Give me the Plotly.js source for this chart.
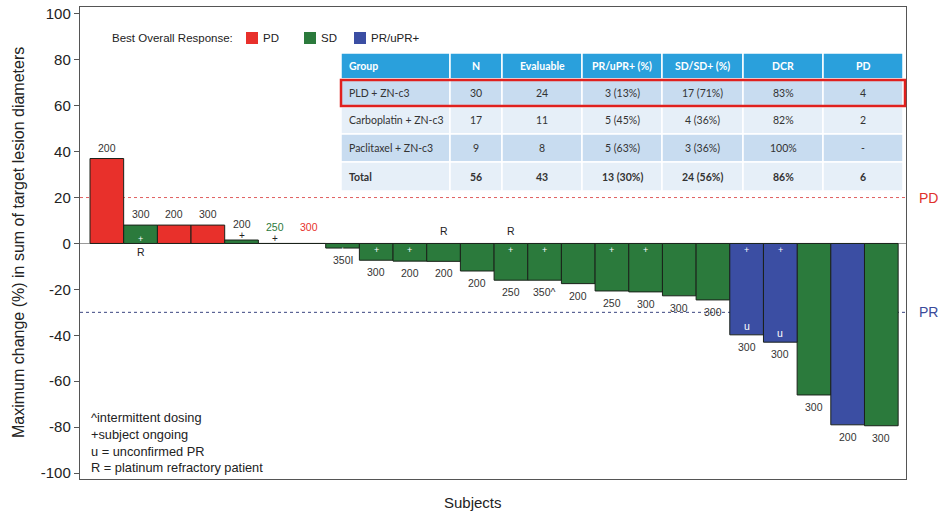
<!DOCTYPE html>
<html>
<head>
<meta charset="utf-8">
<script src="https://cdn.plot.ly/plotly-3.0.1.min.js"></script>
<style>
  html, body { margin: 0; padding: 0; background: #ffffff; }
  #chart { width: 944px; height: 515px; }
</style>
</head>
<body>
<div id="chart"></div>
<script>
// ---- Waterfall data: one entry per subject ----
const subjects = [1, 2, 3, 4, 5, 6, 7, 8, 9, 10, 11, 12, 13, 14, 15, 16, 17, 18, 19, 20, 21, 22, 23, 24];
const changes = [37, 8, 8, 8, 1.5, 0, 0, -2, -7.3, -7.7, -7.8, -12, -16, -16, -17.5, -20.7, -21.1, -22.8, -24.6, -39.8, -43, -66, -79, -79.4];
const responses = ['PD', 'SD', 'PD', 'PD', 'SD', 'SD', 'PD', 'SD', 'SD', 'SD', 'SD', 'SD', 'SD', 'SD', 'SD', 'SD', 'SD', 'SD', 'SD', 'PR', 'PR', 'SD', 'PR', 'SD'];
const doses = ['200', '300', '200', '300', '200', '250', '300', '350I', '300', '200', '200', '200', '250', '350^', '200', '250', '300', '300', '300', '300', '300', '300', '200', '300'];
const ongoing = [0, 1, 0, 0, 1, 1, 0, 1, 1, 1, 0, 0, 1, 1, 0, 1, 1, 0, 0, 1, 1, 0, 0, 0];
const unconfirmed = [0, 0, 0, 0, 0, 0, 0, 0, 0, 0, 0, 0, 0, 0, 0, 0, 0, 0, 0, 1, 1, 0, 0, 0];
const refractory = [0, 1, 0, 0, 0, 0, 0, 0, 0, 0, 1, 0, 1, 0, 0, 0, 0, 0, 0, 0, 0, 0, 0, 0];

const responseKeys = ['PD', 'SD', 'PR'];
const responseNames = ['PD', 'SD', 'PR/uPR+'];
const responseColors = { PD: '#e8302b', SD: '#2b7a3c', PR: '#3b4ea3' };

const yTicks = [100, 80, 60, 40, 20, 0, -20, -40, -60, -80, -100];
const yTickLabels = ['100', '80', '60', '40', '20', '0', '-20', '-40', '-60', '-80', '-100'];
const pdThreshold = 20;
const prThreshold = -30;

const footnotes = ['^intermittent dosing', '+subject ongoing', 'u = unconfirmed PR', 'R = platinum refractory patient'];

// ---- Summary table ----
const tableHeader = ['Group', 'N', 'Evaluable', 'PR/uPR+ (%)', 'SD/SD+ (%)', 'DCR', 'PD'];
const tableGroups = ['PLD + ZN-c3', 'Carboplatin + ZN-c3', 'Paclitaxel + ZN-c3', 'Total'];
const tableN = ['30', '17', '9', '56'];
const tableEvaluable = ['24', '11', '8', '43'];
const tablePR = ['3 (13%)', '5 (45%)', '5 (63%)', '13 (30%)'];
const tableSD = ['17 (71%)', '4 (36%)', '3 (36%)', '24 (56%)'];
const tableDCR = ['83%', '82%', '100%', '86%'];
const tablePD = ['4', '2', '-', '6'];

// ---- Geometry helpers (pixel -> paper) ----
const W = 944, H = 515;
const M = { l: 80, r: 38, t: 7, b: 36 };
const PW = W - M.l - M.r, PH = H - M.t - M.b;
const px = p => (p - M.l) / PW;
const py = p => (H - M.b - p) / PH;

const FONT = 'Liberation Sans, Arial, sans-serif';
const TFONT = 'Lato, Open Sans, sans-serif';
const TXT = '#333333';

// ---- Bar traces, one per response class ----
const traces = responseKeys.map((key, k) => {
  const xs = [], ys = [];
  subjects.forEach((s, i) => { if (responses[i] === key) { xs.push(s); ys.push(changes[i]); } });
  return {
    type: 'bar', x: xs, y: ys, name: responseNames[k], width: 1,
    marker: { color: responseColors[key], line: { color: '#1a221a', width: 1 } },
    hoverinfo: 'skip', showlegend: false
  };
});

const annotations = [];
const shapes = [];

// paper-positioned text with fixed anchors
function paperText(xPix, yPix, text, font, xanchor, extra) {
  return Object.assign({ x: px(xPix), y: py(yPix), xref: 'paper', yref: 'paper', text: text,
    showarrow: false, xanchor: xanchor || 'left', yanchor: 'middle', font: font }, extra || {});
}

// Per-bar labels
subjects.forEach((s, i) => {
  const v = changes[i];
  const small = v >= 0 && v < 4;
  const doseColor = v === 0 ? responseColors[responses[i]] : '#333333';
  const base = { x: s, xref: 'x', yref: 'y', showarrow: false, xanchor: 'center' };
  if (v >= 0) {
    annotations.push(Object.assign({}, base, { y: v, text: doses[i], yanchor: 'bottom', yshift: small ? 8 : 3,
      font: { family: FONT, size: 10.5, color: doseColor } }));
  } else {
    annotations.push(Object.assign({}, base, { y: v, text: doses[i], yanchor: 'top', yshift: -4,
      font: { family: FONT, size: 10.5, color: doseColor } }));
  }
  if (ongoing[i]) {
    if (small) {
      annotations.push(Object.assign({}, base, { y: v, text: '+', yanchor: 'bottom', yshift: -3,
        font: { family: FONT, size: 10, color: '#222222' } }));
    } else if (v > 0) {
      annotations.push(Object.assign({}, base, { y: 0, text: '+', yanchor: 'bottom', yshift: -3,
        font: { family: FONT, size: 9, color: '#ffffff' } }));
    } else {
      annotations.push(Object.assign({}, base, { y: 0, text: '+', yanchor: 'top', yshift: 0,
        font: { family: FONT, size: 9, color: '#ffffff' } }));
    }
  }
  if (unconfirmed[i]) {
    annotations.push(Object.assign({}, base, { y: v, text: 'u', yanchor: 'bottom', yshift: 1,
      font: { family: FONT, size: 10.5, color: '#ffffff' } }));
  }
  if (refractory[i]) {
    annotations.push(Object.assign({}, base, { y: 0, text: 'R', yanchor: 'middle', yshift: v > 0 ? -9 : 12,
      font: { family: FONT, size: 10.5, color: '#222222' } }));
  }
});

// Threshold lines and their labels
shapes.push({ type: 'line', xref: 'paper', yref: 'y', x0: 0, x1: 1, y0: pdThreshold, y1: pdThreshold,
  line: { color: '#e06060', width: 1, dash: 'dot' }, layer: 'below' });
shapes.push({ type: 'line', xref: 'paper', yref: 'y', x0: 0, x1: 1, y0: prThreshold, y1: prThreshold,
  line: { color: '#3a4580', width: 1, dash: 'dot' }, layer: 'below' });
annotations.push({ x: px(928), y: pdThreshold, xref: 'paper', yref: 'y', text: 'PD', showarrow: false,
  xanchor: 'center', yanchor: 'middle', font: { family: FONT, size: 14, color: '#e0302b' } });
annotations.push({ x: px(928), y: prThreshold, xref: 'paper', yref: 'y', text: 'PR', showarrow: false,
  xanchor: 'center', yanchor: 'middle', font: { family: FONT, size: 14, color: '#3a4a9a' } });

// Legend drawn by hand
annotations.push(paperText(110, 38, 'Best Overall Response:', { family: FONT, size: 11.5, color: '#222222' }));
const legendBox = [246, 304, 354];
responseKeys.forEach((key, k) => {
  const x0 = legendBox[k];
  shapes.push({ type: 'rect', xref: 'paper', yref: 'paper', x0: px(x0), x1: px(x0 + 12), y0: py(44), y1: py(32),
    fillcolor: responseColors[key], line: { width: 0 } });
  annotations.push(paperText(x0 + 15, 38, responseNames[k], { family: FONT, size: 11.5, color: '#222222' }));
});

// Table
const colEdges = [341, 450, 502, 582, 662, 743, 823, 903];
const rowEdges = [53, 79, 107, 134, 162, 191];
const rowFills = ['#2aa0dc', '#c8dcf0', '#e6eff8', '#c8dcf0', '#e6eff8'];
for (let r = 0; r < rowFills.length; r++) {
  for (let c = 0; c < colEdges.length - 1; c++) {
    shapes.push({ type: 'rect', xref: 'paper', yref: 'paper',
      x0: px(colEdges[c]), x1: px(colEdges[c + 1]), y0: py(rowEdges[r + 1]), y1: py(rowEdges[r]),
      fillcolor: rowFills[r], line: { color: '#ffffff', width: 1.5 }, layer: 'above' });
  }
}
const tableCols = [tableGroups, tableN, tableEvaluable, tablePR, tableSD, tableDCR, tablePD];
tableHeader.forEach((h, c) => {
  const left = c === 0;
  const xPix = left ? colEdges[0] + 6 : (colEdges[c] + colEdges[c + 1]) / 2;
  const anchor = left ? 'left' : 'center';
  annotations.push(paperText(xPix, (rowEdges[0] + rowEdges[1]) / 2, '<b>' + h + '</b>',
    { family: TFONT, size: 10.5, color: '#ffffff' }, anchor));
  tableCols[c].forEach((val, r) => {
    const bold = r === tableGroups.length - 1;
    annotations.push(paperText(xPix, (rowEdges[r + 1] + rowEdges[r + 2]) / 2, bold ? '<b>' + val + '</b>' : val,
      { family: TFONT, size: 10.5, color: TXT }, anchor));
  });
});
// Highlighted first group row
shapes.push({ type: 'rect', xref: 'paper', yref: 'paper', x0: px(341), x1: px(905), y0: py(106), y1: py(80),
  line: { color: '#e0201e', width: 2.5 }, fillcolor: 'rgba(0,0,0,0)', layer: 'above' });

// Footnotes
const footY = [417, 434, 451, 467];
footnotes.forEach((t, i) => {
  annotations.push(paperText(89, footY[i], t, { family: FONT, size: 12.8, color: '#222222' }));
});

// Axis titles
annotations.push(paperText(473, 502, 'Subjects', { family: FONT, size: 15, color: '#222222' }, 'center'));
annotations.push(paperText(18, 243, 'Maximum change (%) in sum of target lesion diameters',
  { family: FONT, size: 16, color: '#222222' }, 'center', { textangle: -90 }));

const layout = {
  width: W, height: H,
  margin: M,
  paper_bgcolor: '#ffffff', plot_bgcolor: '#ffffff',
  barmode: 'overlay', bargap: 0,
  showlegend: false,
  xaxis: { range: [0.203, 24.733], showticklabels: false, ticks: '', showgrid: false, zeroline: false,
    showline: true, mirror: true, linecolor: '#555555', linewidth: 1.2 },
  yaxis: { range: [-102.6, 103], tickvals: yTicks, ticktext: yTickLabels, ticks: 'outside', ticklen: 5, tickcolor: '#555555',
    tickfont: { family: FONT, size: 15, color: '#222222' }, showgrid: false,
    zeroline: true, zerolinecolor: '#9a9a9a', zerolinewidth: 1.5,
    showline: true, mirror: true, linecolor: '#555555', linewidth: 1.2 },
  shapes: shapes,
  annotations: annotations
};

Plotly.newPlot('chart', traces, layout, { displayModeBar: false, staticPlot: true });
</script>
</body>
</html>
